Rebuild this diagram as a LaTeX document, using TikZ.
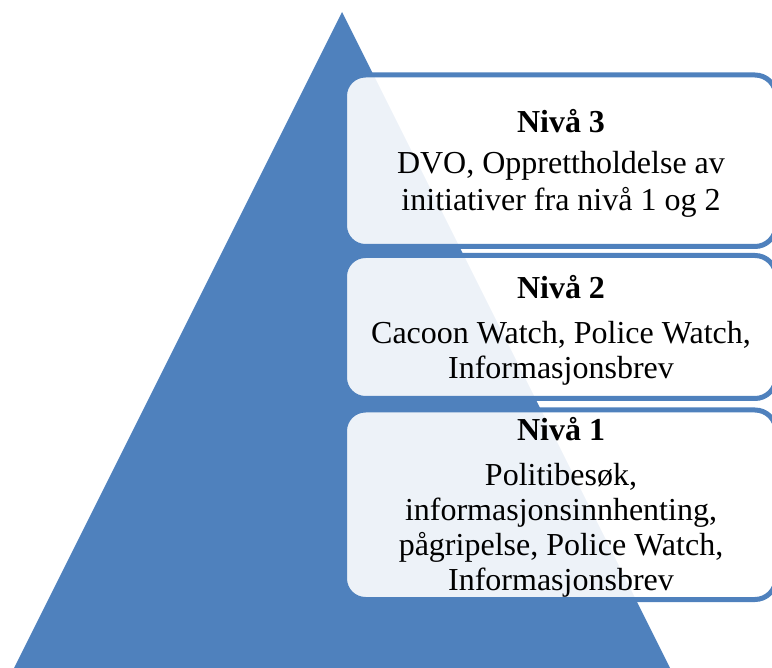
\documentclass[tikz,border=0pt]{standalone}
\usepackage{fontspec}
\setmainfont{Liberation Serif}
\definecolor{triblue}{HTML}{4F81BD}
\definecolor{edgeblue}{HTML}{4F81BD}
\begin{document}
\begin{tikzpicture}[x=1pt,y=-1pt,
  levelbox/.style={draw=edgeblue, line width=5pt, fill=white, fill opacity=0.9,
    rounded corners=21pt, rectangle, inner sep=0pt},
  leveltext/.style={align=center, inner sep=0pt, anchor=north, text=black,
    font=\fontsize{32}{35}\selectfont}]
\useasboundingbox (0,0) rectangle (772,668);
% pyramid
\coordinate (left) at (14,668);
\coordinate (apex) at (342,12);
\coordinate (right) at (670,668);
\fill[triblue] (left) -- (apex) -- (right) -- cycle;
% boxes
\node[levelbox, minimum width=431.5pt, minimum height=171.5pt] (b3) at (560.25,160.75) {};
\node[levelbox, minimum width=431.5pt, minimum height=143pt] (b2) at (560.25,327) {};
\node[levelbox, minimum width=431.5pt, minimum height=189.5pt] (b1) at (560.25,504.75) {};
% texts
\node[leveltext, font=\fontsize{32}{37}\selectfont] (t3) at (561,109)
  {\textbf{Nivå 3}\\[4pt] DVO, Opprettholdelse av\\ initiativer fra nivå 1 og 2};
\node[leveltext] (t2) at (561,275)
  {\textbf{Nivå 2}\\[10pt] Cacoon Watch, Police Watch,\\ Informasjonsbrev};
\node[leveltext] (t1) at (561,417)
  {\textbf{Nivå 1}\\[10pt] Politibesøk,\\ informasjonsinnhenting,\\ pågripelse, Police Watch,\\ Informasjonsbrev};
\end{tikzpicture}
\end{document}
